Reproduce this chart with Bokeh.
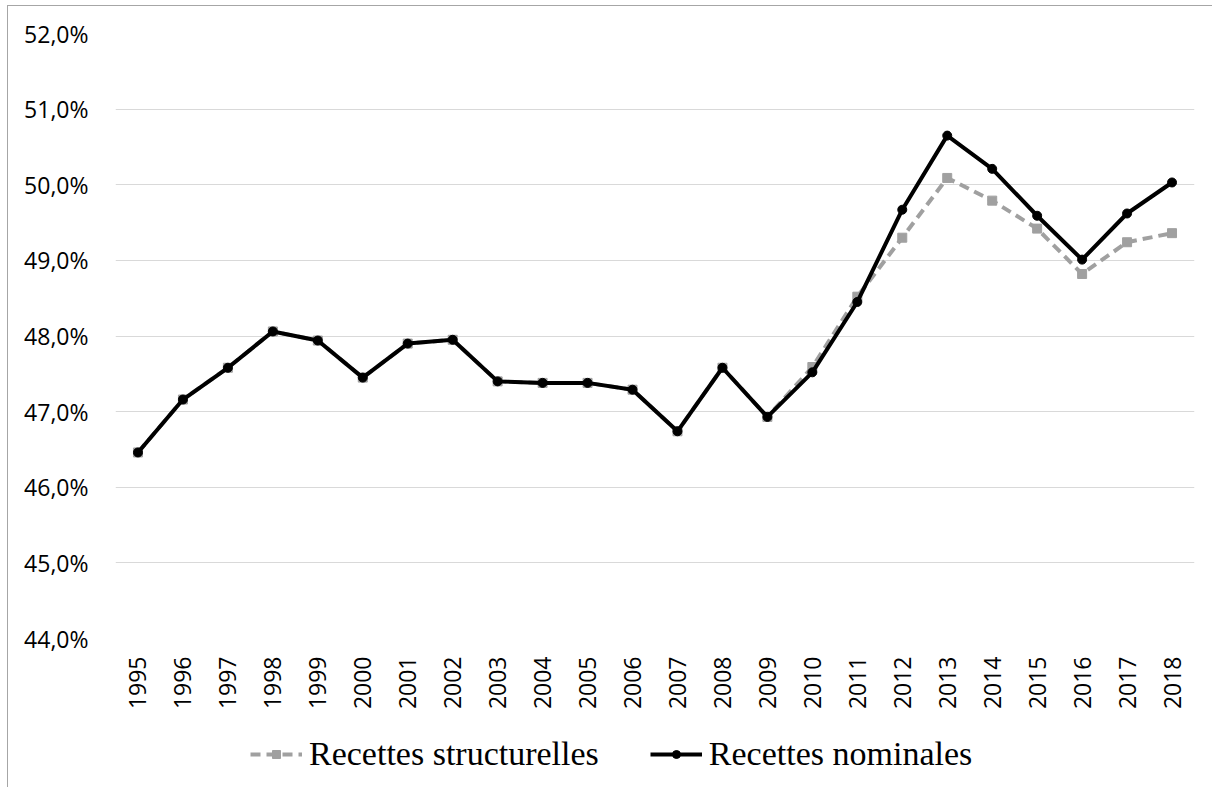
import math
from bokeh.plotting import figure
from bokeh.layouts import column
from bokeh.models import (ColumnDataSource, FactorRange, FixedTicker,
                          CustomJSTickFormatter, Legend, LegendItem)
from bokeh.embed import file_html
from bokeh.resources import INLINE

# Recettes publiques en % du PIB, 1995-2018
years = [str(y) for y in range(1995, 2019)]
recettes_nominales = [46.46, 47.16, 47.58, 48.06, 47.94, 47.45, 47.90, 47.95,
                      47.40, 47.38, 47.38, 47.29, 46.74, 47.58, 46.93, 47.52,
                      48.45, 49.67, 50.65, 50.21, 49.59, 49.01, 49.62, 50.03]
recettes_structurelles = [46.46, 47.16, 47.58, 48.06, 47.94, 47.45, 47.90, 47.95,
                          47.40, 47.38, 47.38, 47.29, 46.74, 47.58, 46.93, 47.59,
                          48.52, 49.30, 50.09, 49.79, 49.42, 48.82, 49.24, 49.36]
y_ticks = [44, 45, 46, 47, 48, 49, 50, 51, 52]
series_labels = ["Recettes structurelles", "Recettes nominales"]

source = ColumnDataSource(dict(year=years, nom=recettes_nominales,
                               struct=recettes_structurelles))

gray = "#a0a0a0"


def add_series(fig, visible=True):
    l_s = fig.line("year", "struct", source=source, line_color=gray, line_width=4,
                   line_dash="10 6", visible=visible)
    m_s = fig.scatter("year", "struct", source=source, marker="square", size=9,
                      fill_color=gray, line_color=gray, visible=visible)
    l_n = fig.line("year", "nom", source=source, line_color="black", line_width=4,
                   visible=visible)
    m_n = fig.scatter("year", "nom", source=source, marker="circle", size=9,
                      fill_color="black", line_color="black", visible=visible)
    return [l_s, m_s], [l_n, m_n]


# main chart
p = figure(width=1204, height=711, x_range=FactorRange(*years, range_padding=0),
           y_range=(44, 52), output_backend="svg", toolbar_location=None,
           min_border_left=107, min_border_right=18, min_border_top=27,
           min_border_bottom=79)
p.outline_line_color = None
p.background_fill_color = "white"
p.border_fill_color = "white"

p.yaxis.ticker = FixedTicker(ticks=y_ticks)
p.yaxis.formatter = CustomJSTickFormatter(
    code="return tick.toFixed(1).replace('.', ',') + '%';")
for ax in (p.xaxis[0], p.yaxis[0]):
    ax.axis_line_color = None
    ax.major_tick_line_color = None
    ax.minor_tick_line_color = None
    ax.major_tick_out = 0
    ax.minor_tick_out = 0
    ax.major_label_text_font = "Open Sans"
    ax.major_label_text_font_size = "23px"
    ax.major_label_text_color = "black"
p.yaxis.major_label_standoff = 27
p.xaxis.major_label_orientation = math.pi / 2
p.xaxis.major_label_standoff = 18
p.xgrid.grid_line_color = None
p.ygrid.grid_line_color = "#d9d9d9"
p.ygrid.grid_line_width = 1

add_series(p)

# legend strip under the chart (its series are hidden, only the keys show)
lg = figure(width=1204, height=70, x_range=FactorRange(*years, range_padding=0),
            y_range=(44, 52), output_backend="svg", toolbar_location=None,
            x_axis_location=None, y_axis_location=None,
            min_border_left=0, min_border_right=0, min_border_top=0,
            min_border_bottom=0)
lg.outline_line_color = None
lg.grid.grid_line_color = None
lg.background_fill_color = "white"
lg.border_fill_color = "white"
key_s, key_n = add_series(lg, visible=False)

legend = Legend(items=[
    LegendItem(label=series_labels[0], renderers=key_s),
    LegendItem(label=series_labels[1], renderers=key_n),
], location=(135, 14), orientation="horizontal")
legend.padding = 0
legend.margin = 0
legend.border_line_color = None
legend.background_fill_alpha = 0
legend.inactive_fill_alpha = 0
legend.glyph_width = 52
legend.glyph_height = 20
legend.label_standoff = 7
legend.spacing = 51
legend.label_text_font = "Liberation Serif"
legend.label_text_font_size = "34px"
legend.label_text_color = "black"
legend.label_text_baseline = "middle"
lg.add_layout(legend, "center")

page = column(p, lg, spacing=0, margin=(5, 0, 0, 7),
              styles={"border-top": "1px solid #a6a6a6",
                      "border-left": "1px solid #a6a6a6"})

open("out.html", "w").write(file_html(page, INLINE))
